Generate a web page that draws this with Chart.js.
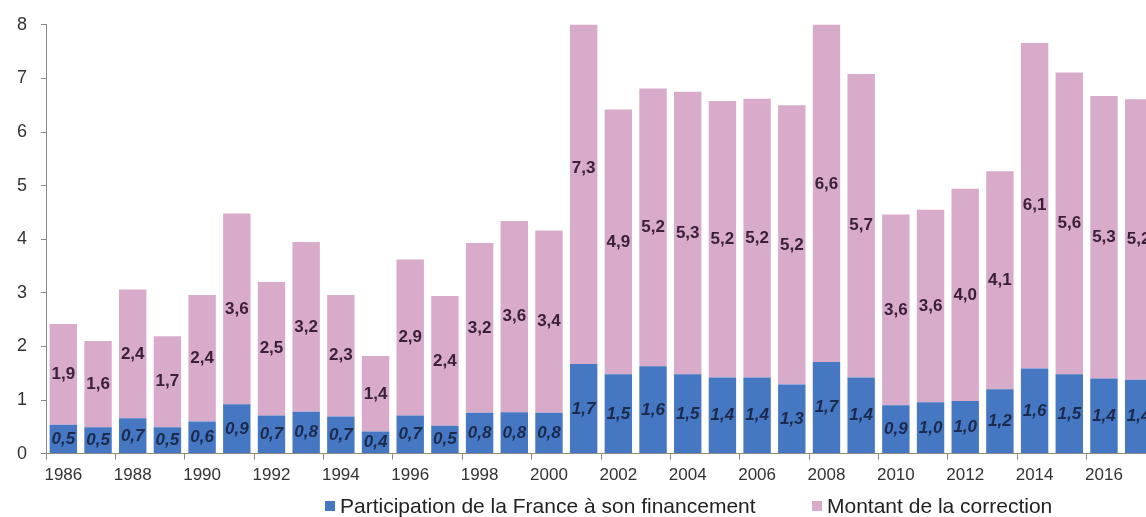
<!DOCTYPE html>
<html><head><meta charset="utf-8">
<script src="https://cdn.jsdelivr.net/npm/chart.js@4/dist/chart.umd.min.js"></script>
<style>
html,body{margin:0;padding:0;background:#fff;overflow:hidden;width:1146px;height:517px;}
#wrap{position:relative;width:1160px;height:517px;}
.item{position:absolute;top:494px;display:flex;align-items:center;font:21px "Liberation Sans",Arial,sans-serif;color:#222;white-space:nowrap;line-height:24px;}
.box{width:10px;height:10px;display:inline-block;margin-right:5px;}
</style></head>
<body><div id="wrap"><canvas id="c" width="1160" height="517"></canvas></div>
<script>
const years = ['1986','1987','1988','1989','1990','1991','1992','1993','1994','1995','1996','1997','1998','1999','2000','2001','2002','2003','2004','2005','2006','2007','2008','2009','2010','2011','2012','2013','2014','2015','2016','2017'];
const participation = [0.54,0.49,0.66,0.49,0.60,0.92,0.71,0.78,0.69,0.41,0.71,0.52,0.76,0.77,0.76,1.67,1.48,1.63,1.48,1.42,1.42,1.29,1.71,1.42,0.90,0.96,0.98,1.20,1.59,1.48,1.40,1.38];
const correction = [1.88,1.61,2.40,1.70,2.36,3.56,2.49,3.17,2.27,1.41,2.91,2.42,3.17,3.57,3.40,7.32,4.94,5.18,5.27,5.16,5.20,5.21,6.62,5.66,3.56,3.59,3.96,4.07,6.07,5.63,5.27,5.23];
const yTicks = [0,1,2,3,4,5,6,7,8];
const seriesNames = ['Participation de la France à son financement','Montant de la correction'];
const colors = ['#4577c3','#d9abcb'];

const FONT = '"Liberation Sans", Arial, sans-serif';
const fmt = v => v.toFixed(1).replace('.', ',');

const labelPlugin = {
  id: 'barLabels',
  afterDatasetsDraw(chart) {
    const ctx = chart.ctx, y = chart.scales.y;
    ctx.save();
    ctx.textAlign = 'center';
    ctx.textBaseline = 'middle';
    chart.data.datasets.forEach((ds, di) => {
      const meta = chart.getDatasetMeta(di);
      meta.data.forEach((bar, i) => {
        const v = ds.data[i];
        const base = di === 0 ? 0 : participation[i];
        const py = y.getPixelForValue(base + v / 2);
        ctx.font = (di === 0 ? 'italic bold 17px ' : 'bold 17px ') + FONT;
        ctx.fillStyle = di === 0 ? '#1c2a4d' : '#3b2138';
        ctx.fillText(fmt(v), bar.x, py);
      });
    });
    ctx.restore();
  }
};

new Chart(document.getElementById('c'), {
  type: 'bar',
  data: {
    labels: years,
    datasets: [
      { label: seriesNames[0], data: participation, backgroundColor: colors[0], borderWidth: 0, barPercentage: 0.79, categoryPercentage: 1.0 },
      { label: seriesNames[1], data: correction, backgroundColor: colors[1], borderWidth: 0, barPercentage: 0.79, categoryPercentage: 1.0 }
    ]
  },
  options: {
    responsive: false,
    animation: false,
    layout: { padding: { left: 3, top: 23, right: 4, bottom: 25 } },
    plugins: { legend: { display: false }, tooltip: { enabled: false } },
    scales: {
      x: {
        stacked: true,
        offset: true,
        grid: {
          display: true, drawOnChartArea: false, drawTicks: true, tickLength: 6, offset: true,
          color: c => (c.index % 2 === 0 ? '#8a8a8a' : 'rgba(0,0,0,0)')
        },
        border: { color: '#8a8a8a', width: 1 },
        ticks: {
          autoSkip: false, maxRotation: 0, padding: 6,
          color: '#333', font: { size: 17, family: FONT },
          callback: (v, i) => (i % 2 === 0 ? years[i] : '')
        }
      },
      y: {
        stacked: true,
        min: yTicks[0], max: yTicks[yTicks.length - 1],
        afterBuildTicks: s => { s.ticks = yTicks.map(v => ({ value: v })); },
        grid: { display: true, drawOnChartArea: false, tickLength: 5, color: '#8a8a8a' },
        border: { color: '#8a8a8a', width: 1 },
        ticks: { padding: 14, color: '#333', font: { size: 18, family: FONT } }
      }
    }
  },
  plugins: [labelPlugin]
});

const wrap = document.getElementById('wrap');
const legendLeft = [325, 812];
seriesNames.forEach((n, i) => {
  const it = document.createElement('div');
  it.className = 'item';
  it.style.left = legendLeft[i] + 'px';
  const b = document.createElement('span');
  b.className = 'box';
  b.style.background = colors[i];
  const t = document.createElement('span');
  t.textContent = n;
  it.appendChild(b); it.appendChild(t);
  wrap.appendChild(it);
});
</script>
</body></html>
